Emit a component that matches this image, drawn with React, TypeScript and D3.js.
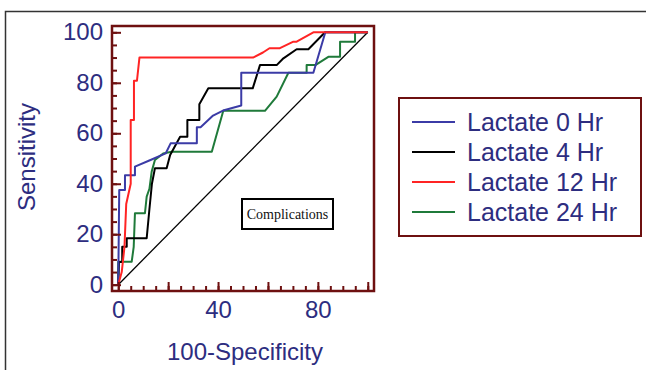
import { useEffect, useRef } from 'react'
import * as d3 from 'd3'

// ROC points [100-Specificity, Sensitivity]
const lactate0: [number, number][] = [
  [0, 0], [0.4, 37.5], [2.7, 37.5], [2.7, 43.4], [6.7, 43.4], [6.7, 46.8],
  [12.7, 49.3], [19, 52], [21, 56], [31.5, 56], [31.5, 62.4], [33, 62.4],
  [38, 67], [42, 69], [49.3, 71], [49.3, 84], [78.2, 84], [83, 100], [100, 100]
]
const lactate4: [number, number][] = [
  [0, 0], [0.3, 9], [1.6, 9], [1.6, 15], [3.4, 15], [3.4, 18.4], [11.4, 18.4],
  [12.5, 30], [13.5, 40], [14.7, 46.1], [19.4, 46.1], [20.8, 51.4], [24.8, 58.6],
  [27.7, 58.6], [27.7, 65.3], [32.5, 65.3], [32.5, 71.5], [36.1, 77.8], [53.9, 77.8],
  [56.8, 87], [63.5, 87], [66.2, 89.7], [71.5, 93.3], [76.2, 93.3], [82.9, 100], [100, 100]
]
const lactate12: [number, number][] = [
  [0, 0], [1.4, 5], [2.5, 15], [3.2, 32], [5, 40], [5, 65.3], [6.3, 65.3],
  [6.3, 80.8], [7.5, 80.8], [8.5, 90], [54, 90], [58, 92], [60.6, 93.7],
  [64.8, 93.7], [70.2, 96.3], [71.5, 96.3], [78.2, 100], [100, 100]
]
const lactate24: [number, number][] = [
  [0, 0], [0, 9.1], [5.4, 9.1], [6.2, 15], [6.7, 28.3], [10.7, 28.3], [11.4, 34.9],
  [12.5, 38], [13.4, 44.8], [14.7, 49.4], [18, 52], [21.4, 52.7], [37.5, 52.7],
  [42.1, 68.9], [58.8, 68.9], [63.5, 74.5], [68.2, 84], [75.5, 84], [75.5, 87],
  [79, 87], [84.2, 90.3], [88.9, 90.3], [88.9, 96.3], [94.9, 96.3], [94.9, 100], [100, 100]
]

const seriesNames = ['Lactate 0 Hr', 'Lactate 4 Hr', 'Lactate 12 Hr', 'Lactate 24 Hr']
const seriesColors = ['#3b3ba6', '#000000', '#ff2424', '#1f7a3a']
const yTickLabels = [0, 20, 40, 60, 80, 100]
const xTickLabels = [0, 40, 80]

export default function App() {
  const svgRef = useRef<SVGSVGElement>(null)

  useEffect(() => {
    if (!svgRef.current) return
    const width = 646
    const height = 370
    const maroon = '#6e1010'
    const navy = '#2d2d80'
    const font = '"Liberation Sans", Arial, sans-serif'

    const svg = d3.select(svgRef.current)
    svg.selectAll('*').remove()
    svg.attr('width', width).attr('height', height)

    // outer frame (left + top only visible)
    svg.append('path')
      .attr('d', 'M5.5,370 L5.5,11.5 L646,11.5')
      .attr('fill', 'none')
      .attr('stroke', '#333')
      .attr('stroke-width', 1.5)

    const xScale = d3.scaleLinear().domain([-2.5, 102.5]).range([112, 374])
    const yScale = d3.scaleLinear().domain([-2.5, 102.5]).range([291, 26])

    // diagonal reference line
    svg.append('line')
      .attr('x1', xScale(0)).attr('y1', yScale(0))
      .attr('x2', xScale(100)).attr('y2', yScale(100))
      .attr('stroke', '#000')
      .attr('stroke-width', 1.3)

    // ROC curves
    const line = d3.line<[number, number]>()
      .x(d => xScale(d[0]))
      .y(d => yScale(d[1]))
    const allSeries = [lactate0, lactate4, lactate12, lactate24]
    const drawOrder = [3, 1, 0, 2]
    drawOrder.forEach(i => {
      svg.append('path')
        .attr('d', line(allSeries[i]))
        .attr('fill', 'none')
        .attr('stroke', seriesColors[i])
        .attr('stroke-width', 2)
        .attr('stroke-linejoin', 'round')
    })

    // axes: minor ticks every 5, major every 20, pointing inward
    const minor = d3.range(0, 101, 5)
    const major = d3.range(0, 101, 20)

    const yMinor = svg.append('g').attr('transform', 'translate(112,0)')
      .call(d3.axisLeft(yScale).tickValues(minor).tickSizeInner(-5).tickSizeOuter(0).tickFormat(() => ''))
    const yMajor = svg.append('g').attr('transform', 'translate(112,0)')
      .call(d3.axisLeft(yScale).tickValues(major).tickSizeInner(-9).tickSizeOuter(0).tickPadding(9)
        .tickFormat(d => (yTickLabels.includes(+d) ? String(d) : '')))
    const xMinor = svg.append('g').attr('transform', 'translate(0,291)')
      .call(d3.axisBottom(xScale).tickValues(minor).tickSizeInner(-5).tickSizeOuter(0).tickFormat(() => ''))
    const xMajor = svg.append('g').attr('transform', 'translate(0,291)')
      .call(d3.axisBottom(xScale).tickValues(major).tickSizeInner(-9).tickSizeOuter(0).tickPadding(10)
        .tickFormat(d => (xTickLabels.includes(+d) ? String(d) : '')))

    ;[yMinor, yMajor, xMinor, xMajor].forEach(g => {
      g.select('.domain').remove()
      g.selectAll('line').attr('stroke', maroon).attr('stroke-width', 2)
      g.selectAll('text').attr('fill', navy).attr('font-size', 24).attr('font-family', font)
    })

    // plot box
    svg.append('rect')
      .attr('x', 112).attr('y', 26)
      .attr('width', 262).attr('height', 265)
      .attr('fill', 'none')
      .attr('stroke', maroon)
      .attr('stroke-width', 2.5)

    // axis titles
    svg.append('text')
      .attr('x', 245).attr('y', 360)
      .attr('text-anchor', 'middle')
      .attr('fill', navy)
      .attr('font-size', 24)
      .attr('font-family', font)
      .text('100-Specificity')

    svg.append('text')
      .attr('transform', 'translate(35,157) rotate(-90)')
      .attr('text-anchor', 'middle')
      .attr('fill', navy)
      .attr('font-size', 24)
      .attr('font-family', font)
      .text('Sensitivity')

    // annotation box
    svg.append('rect')
      .attr('x', 242).attr('y', 199)
      .attr('width', 91).attr('height', 30)
      .attr('fill', '#fff')
      .attr('stroke', '#000')
      .attr('stroke-width', 2)
    svg.append('text')
      .attr('x', 287.5).attr('y', 218.5)
      .attr('text-anchor', 'middle')
      .attr('fill', '#111')
      .attr('font-size', 14)
      .attr('font-family', '"Liberation Serif", "Times New Roman", serif')
      .text('Complications')

    // legend
    svg.append('rect')
      .attr('x', 399).attr('y', 98)
      .attr('width', 242).attr('height', 138)
      .attr('fill', '#fff')
      .attr('stroke', maroon)
      .attr('stroke-width', 2)

    seriesNames.forEach((name, i) => {
      const cy = 122 + i * 30
      svg.append('line')
        .attr('x1', 412).attr('x2', 455)
        .attr('y1', cy).attr('y2', cy)
        .attr('stroke', seriesColors[i])
        .attr('stroke-width', 2)
      svg.append('text')
        .attr('x', 467).attr('y', cy + 9)
        .attr('fill', navy)
        .attr('font-size', 25)
        .attr('font-family', font)
        .text(name)
    })
  }, [])

  return (
    <svg ref={svgRef} style={{ position: 'absolute', left: 0, top: 0, background: '#fff' }} />
  )
}
